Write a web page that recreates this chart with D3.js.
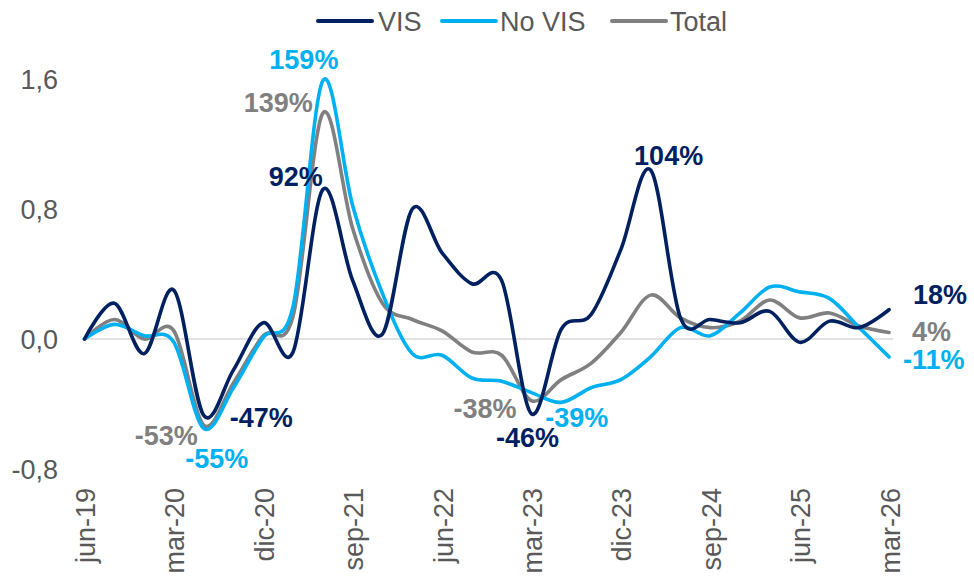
<!DOCTYPE html>
<html>
<head>
<meta charset="utf-8">
<script src="https://cdn.jsdelivr.net/npm/d3@7"></script>
<style>
  html, body { margin: 0; padding: 0; background: #fff; }
  svg { display: block; font-family: "Liberation Sans", Arial, sans-serif; }
</style>
</head>
<body>
<svg id="chart" width="974" height="583"></svg>
<script>
// ---- DATA ----
const quarters = [
  "jun-19","sep-19","dic-19","mar-20","jun-20","sep-20","dic-20","mar-21",
  "jun-21","sep-21","dic-21","mar-22","jun-22","sep-22","dic-22","mar-23",
  "jun-23","sep-23","dic-23","mar-24","jun-24","sep-24","dic-24","mar-25",
  "jun-25","sep-25","dic-25","mar-26"
];
const tickLabels = ["jun-19","mar-20","dic-20","sep-21","jun-22","mar-23","dic-23","sep-24","jun-25","mar-26"];
const yTicks = [-0.8, 0.0, 0.8, 1.6];

const visValues = [0.00, 0.22, -0.09, 0.30, -0.47, -0.19, 0.10, -0.08, 0.92, 0.36, 0.03, 0.80, 0.53, 0.34,
                   0.36, -0.46, 0.06, 0.15, 0.55, 1.04, 0.13, 0.12, 0.10, 0.17, -0.02, 0.11, 0.07, 0.18];
const noVisValues = [0.00, 0.09, 0.02, -0.02, -0.55, -0.30, 0.01, 0.20, 1.59, 0.82, 0.28, -0.09, -0.10, -0.24,
                     -0.26, -0.33, -0.39, -0.30, -0.25, -0.11, 0.07, 0.02, 0.16, 0.32, 0.29, 0.25, 0.07, -0.11];
const totalValues = [0.00, 0.12, 0.00, 0.05, -0.53, -0.27, 0.02, 0.14, 1.39, 0.68, 0.22, 0.12, 0.05, -0.08,
                     -0.10, -0.38, -0.25, -0.15, 0.04, 0.27, 0.13, 0.07, 0.11, 0.24, 0.13, 0.16, 0.08, 0.04];

const seriesNames = ["VIS", "No VIS", "Total"];
const seriesColors = ["#002060", "#00B0F0", "#808080"];

// labelled points: series index, quarter index
const labelPoints = [
  {s: 1, i: 8}, {s: 2, i: 8}, {s: 0, i: 8},
  {s: 0, i: 4}, {s: 2, i: 4}, {s: 1, i: 4},
  {s: 2, i: 15}, {s: 0, i: 15}, {s: 1, i: 16},
  {s: 0, i: 19},
  {s: 0, i: 27}, {s: 2, i: 27}, {s: 1, i: 27}
];

// ---- LAYOUT / STYLE ----
const labelStyle = {
  "1-8":  {dx: -19, dy: -12, anchor: "middle"},
  "2-8":  {dx: -10, dy: -1,  anchor: "end"},
  "0-8":  {dx: 0,   dy: -4,  anchor: "end"},
  "0-4":  {dx: 26,  dy: 12,  anchor: "start"},
  "2-4":  {dx: -6,  dy: 20,  anchor: "end"},
  "1-4":  {dx: 13,  dy: 40,  anchor: "middle"},
  "2-15": {dx: -15, dy: 17,  anchor: "end"},
  "0-15": {dx: -4,  dy: 33,  anchor: "middle"},
  "1-16": {dx: -16, dy: 25,  anchor: "start"},
  "0-19": {dx: 18,  dy: -5,  anchor: "middle"},
  "0-27": {dx: 24,  dy: -6,  anchor: "start"},
  "2-27": {dx: 23,  dy: 8,   anchor: "start"},
  "1-27": {dx: 14,  dy: 12,  anchor: "start"}
};

const allValues = [visValues, noVisValues, totalValues];
const svg = d3.select("#chart");

const x = d3.scalePoint().domain(quarters).range([84.5, 889]);
const y = d3.scaleLinear().domain([-0.8, 1.6]).range([469, 79]);

const fmtTick = v => d3.format(".1f")(v).replace(".", ",").replace("\u2212", "-");
const fmtPct = v => Math.round(v * 100) + "%";

// zero gridline
svg.append("line")
  .attr("x1", x(quarters[0]) - 1).attr("x2", x(quarters[quarters.length - 1]) + 4)
  .attr("y1", y(0)).attr("y2", y(0))
  .attr("stroke", "#D9D9D9").attr("stroke-width", 1.6);

// y axis
const yAxis = svg.append("g")
  .attr("transform", "translate(58,0)")
  .call(d3.axisLeft(y).tickValues(yTicks).tickFormat(fmtTick).tickSize(0).tickPadding(0));
yAxis.select(".domain").remove();
yAxis.selectAll("text")
  .attr("font-family", "Liberation Sans, Arial, sans-serif")
  .attr("font-size", 27).attr("fill", "#595959")
  .attr("dy", "0.36em");

// x axis labels (rotated)
const xAxis = svg.append("g")
  .attr("transform", "translate(0,488)")
  .call(d3.axisBottom(x).tickValues(tickLabels).tickSize(0).tickPadding(0));
xAxis.select(".domain").remove();
xAxis.selectAll("text")
  .attr("font-family", "Liberation Sans, Arial, sans-serif")
  .attr("font-size", 27).attr("fill", "#595959")
  .attr("text-anchor", "end")
  .attr("y", 0).attr("dy", 0)
  .attr("transform", "translate(10,0) rotate(-90)");

// lines
const line = d3.line()
  .x((d, i) => x(quarters[i]))
  .y(d => y(d))
  .curve(d3.curveCardinal.tension(0));

const drawOrder = [2, 1, 0];
drawOrder.forEach(s => {
  svg.append("path")
    .datum(allValues[s])
    .attr("d", line)
    .attr("fill", "none")
    .attr("stroke", seriesColors[s])
    .attr("stroke-width", 3.6)
    .attr("stroke-linejoin", "round")
    .attr("stroke-linecap", "round");
});

// data labels
labelPoints.forEach(p => {
  const st = labelStyle[p.s + "-" + p.i];
  const v = allValues[p.s][p.i];
  svg.append("text")
    .attr("x", x(quarters[p.i]) + st.dx)
    .attr("y", y(v) + st.dy)
    .attr("text-anchor", st.anchor)
    .attr("font-family", "Liberation Sans, Arial, sans-serif")
    .attr("font-weight", "bold")
    .attr("font-size", 27)
    .attr("fill", seriesColors[p.s])
    .text(fmtPct(v));
});

// legend
const legendItems = [
  {s: 0, x0: 318, tx: 378},
  {s: 1, x0: 442, tx: 500},
  {s: 2, x0: 612, tx: 670}
];
const lg = svg.append("g");
legendItems.forEach(it => {
  lg.append("line")
    .attr("x1", it.x0).attr("x2", it.x0 + 54)
    .attr("y1", 21).attr("y2", 21)
    .attr("stroke", seriesColors[it.s]).attr("stroke-width", 4)
    .attr("stroke-linecap", "round");
  lg.append("text")
    .attr("x", it.tx).attr("y", 31)
    .attr("font-family", "Liberation Sans, Arial, sans-serif")
    .attr("font-size", 27).attr("fill", "#595959")
    .text(seriesNames[it.s]);
});
</script>
</body>
</html>
